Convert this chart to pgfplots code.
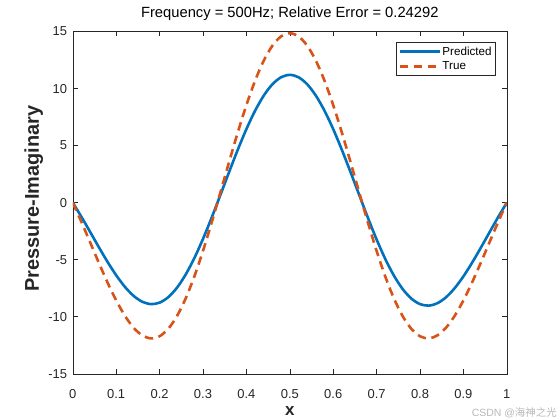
\documentclass[border=0pt]{standalone}
\usepackage{fontspec}
\setmainfont{Liberation Sans}
\newfontfamily\cjk{Noto Sans CJK SC}
\usepackage{pgfplots}
\pgfplotsset{compat=1.18}
\definecolor{mblue}{rgb}{0,0.447,0.741}
\definecolor{morange}{rgb}{0.850,0.325,0.098}
\definecolor{axgray}{rgb}{0.15,0.15,0.15}
\begin{document}
\begin{tikzpicture}
\useasboundingbox (0,0) rectangle (560bp,420bp);
\begin{axis}[
  at={(72.8bp,46.2bp)}, anchor=south west,
  scale only axis, width=434bp, height=342.3bp,
  xmin=0, xmax=1, ymin=-15, ymax=15,
  xtick={0,0.1,0.2,0.3,0.4,0.5,0.6,0.7,0.8,0.9,1},
  xticklabels={0,0.1,0.2,0.3,0.4,0.5,0.6,0.7,0.8,0.9,1},
  ytick={-15,-10,-5,0,5,10,15},
  yticklabels={-15,-10,-5,0,5,10,15},
  tick align=inside, major tick length=5bp,
  axis line style={axgray, line width=0.6bp},
  major tick style={axgray, line width=0.6bp},
  tick label style={font=\fontsize{13}{15}\selectfont, text=axgray},
  /pgf/number format/assume math mode=true,
  xticklabel style={anchor=base, yshift=-24.5bp},
  yticklabel style={anchor=east, inner sep=0pt, xshift=-5.5bp},
  title={Frequency = 500Hz; Relative Error = 0.24292},
  title style={at={(axis description cs:0.5,1.0225)}, anchor=base, font=\fontsize{14.8}{17}\selectfont, text=black},
  xlabel={x},
  xlabel style={at={(axis description cs:0.5,-0.1204)}, anchor=base, font=\bfseries\fontsize{17}{19}\selectfont, text=axgray},
  ylabel={Pressure-Imaginary},
  ylabel style={at={(axis description cs:-0.0779,0.512)}, anchor=base, font=\bfseries\fontsize{20}{23}\selectfont, text=axgray},
  legend style={at={(1,1)}, anchor=north east, xshift=-11.3bp, yshift=-10.8bp,
    draw=axgray, line width=0.6bp, font=\fontsize{11.7}{13}\selectfont,
    inner xsep=2bp, inner ysep=2.5bp, row sep=2bp, nodes={inner sep=1.5bp, text=black}},
  legend cell align=left,
  legend image code/.code={\draw[#1] (0bp,0bp) -- (40bp,0bp);},
]
\addplot[mblue, line width=2.6bp, smooth] coordinates {
(0,0) (0.02,-1.252) (0.04,-2.571) (0.06,-3.902) (0.08,-5.188) (0.10,-6.366)
(0.12,-7.378) (0.14,-8.167) (0.16,-8.685) (0.18,-8.892) (0.20,-8.762)
(0.22,-8.283) (0.24,-7.458) (0.26,-6.306) (0.28,-4.863) (0.30,-3.176)
(0.32,-1.309) (0.34,0.666) (0.36,2.671) (0.38,4.625) (0.40,6.445)
(0.42,8.055) (0.44,9.384) (0.46,10.378) (0.48,10.992) (0.50,11.200)
(0.52,10.992) (0.54,10.378) (0.56,9.384) (0.58,8.055) (0.60,6.445)
(0.62,4.625) (0.64,2.671) (0.66,0.666) (0.68,-1.329) (0.70,-3.224)
(0.72,-4.936) (0.74,-6.401) (0.76,-7.570) (0.78,-8.407) (0.80,-8.893)
(0.82,-9.025) (0.84,-8.815) (0.86,-8.290) (0.88,-7.489) (0.90,-6.461)
(0.92,-5.266) (0.94,-3.961) (0.96,-2.610) (0.98,-1.271) (1.00,0)
};
\addlegendentry{Predicted}
\addplot[morange, line width=2.6bp, smooth, dash pattern=on 8.5bp off 5.5bp] coordinates {
(0,0) (0.02,-1.701) (0.04,-3.483) (0.06,-5.274) (0.08,-6.997) (0.10,-8.570)
(0.12,-9.915) (0.14,-10.958) (0.16,-11.635) (0.18,-11.896) (0.20,-11.709)
(0.22,-11.055) (0.24,-9.945) (0.26,-8.402) (0.28,-6.473) (0.30,-4.225)
(0.32,-1.741) (0.34,0.885) (0.36,3.547) (0.38,6.139) (0.40,8.552)
(0.42,10.685) (0.44,12.446) (0.46,13.762) (0.48,14.575) (0.50,14.850)
(0.52,14.575) (0.54,13.762) (0.56,12.446) (0.58,10.685) (0.60,8.552)
(0.62,6.139) (0.64,3.547) (0.66,0.885) (0.68,-1.741) (0.70,-4.225)
(0.72,-6.473) (0.74,-8.402) (0.76,-9.945) (0.78,-11.055) (0.80,-11.709)
(0.82,-11.896) (0.84,-11.635) (0.86,-10.958) (0.88,-9.915) (0.90,-8.570)
(0.92,-6.997) (0.94,-5.274) (0.96,-3.483) (0.98,-1.701) (1.00,0)
};
\addlegendentry{True}
\end{axis}
\node[anchor=base east, text=black!28, font=\fontsize{10.5}{12}\selectfont, inner sep=0pt] at (557bp,4bp) {CSDN @{\cjk 海神之光}};
\end{tikzpicture}
\end{document}
